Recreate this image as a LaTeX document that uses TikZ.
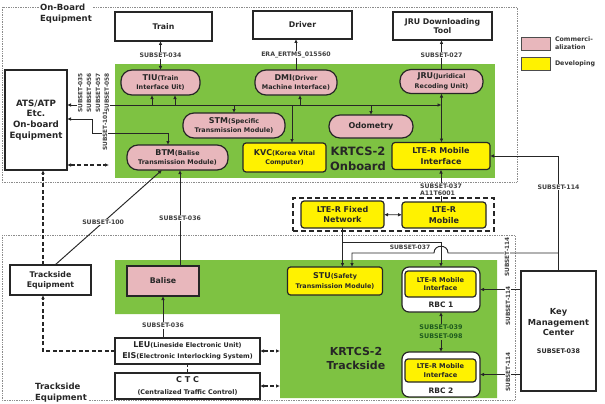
\documentclass[tikz,border=0pt]{standalone}
\usepackage{fontspec}
\setmainfont{DejaVu Sans}
\usepackage{tikz}
\usetikzlibrary{arrows.meta,positioning,fit,calc}
\definecolor{cGrn}{HTML}{7EC242}
\definecolor{cPnk}{HTML}{E8B7BC}
\definecolor{cYel}{HTML}{FFF200}
\definecolor{cLin}{HTML}{262626}
\definecolor{cDkG}{HTML}{1E5A1E}
\definecolor{cFrm}{HTML}{8C8C8C}
\newcommand{\nm}[1]{{\fontsize{8}{9}\selectfont #1}}
\tikzset{
  frm/.style ={draw=cFrm,densely dotted,line width=0.7pt},
  grn/.style ={fill=cGrn,draw=none,inner sep=0pt},
  ttl/.style ={font=\fontsize{8.5}{11}\selectfont\bfseries,fill=white,align=left,
               inner sep=1.5pt,text=black!85},
  ext/.style ={draw=cLin,line width=1.2pt,fill=white,align=center,inner sep=1pt,
               font=\fontsize{7.8}{9.8}\selectfont\bfseries,text=black!85},
  com/.style ={ext,fill=cPnk,rounded corners=11pt,font=\fontsize{6.4}{9.5}\selectfont\bfseries},
  dev/.style ={ext,fill=cYel,rounded corners=3pt,font=\fontsize{6.4}{9.5}\selectfont\bfseries},
  devt/.style={dev,font=\fontsize{8}{10.5}\selectfont\bfseries},
  rbc/.style ={draw=cLin,line width=1.2pt,fill=white,rounded corners=7pt,inner sep=0pt},
  big/.style ={font=\fontsize{11.5}{15}\selectfont\bfseries,align=center,text=black!85},
  lbl/.style ={font=\fontsize{6.2}{6.8}\selectfont\bfseries,text=black!75,fill=white,inner sep=0.8pt},
  vlbl/.style={lbl,rotate=90,font=\fontsize{5.8}{8.8}\selectfont\bfseries,align=center},
  sig/.style ={->,draw=cLin,line width=0.95pt},
  sigb/.style={<->,draw=cLin,line width=0.95pt},
  dsig/.style={sig,line width=1.1pt,dash pattern=on 4pt off 2.5pt},
  dsigb/.style={sigb,line width=1.1pt,dash pattern=on 4pt off 2.5pt},
  dln/.style ={draw=cLin,line width=1pt,dash pattern=on 3pt off 2pt},
  grp/.style ={draw=cLin,line width=1.4pt,dash pattern=on 5pt off 3pt,inner xsep=8pt,inner ysep=3pt},
  leg/.style ={draw=black!70,line width=0.8pt,minimum width=29pt,minimum height=13pt,inner sep=0pt},
  legt/.style={font=\fontsize{6.3}{7.8}\selectfont\bfseries,align=left,inner sep=1pt,text=black!80},
}

\begin{document}
\begin{tikzpicture}[x=1pt,y=-1pt,>={Latex[length=4pt,width=3.6pt]},every node/.style={outer sep=0pt}]
\useasboundingbox (0,0) rectangle (605,404);

% ---------------- frames and green areas ---------------------------------
\draw[frm] (2,7) rectangle (517,182);
\draw[frm] (2,235) rectangle (515,400);
\node[grn,minimum width=380pt,minimum height=114pt] (gOnb) at (305,121) {};
\fill[cGrn] (115,260) -- (497,260) -- (497,398) -- (280,398) -- (280,314) -- (115,314) -- cycle;
\coordinate (gTrk) at (280,314);
\node[ttl] (tOnb) at (66,14) {On-Board\\Equipment};
\node[ttl] (tTrk) at (61,392.5) {Trackside\\Equipment};

% ---------------- on-board ------------------------------------------------
\node[ext,minimum width=97pt,minimum height=29pt] (train) at (163.5,26.5) {Train};
\node[ext,minimum width=99pt,minimum height=28pt] (driver) at (302.5,25) {Driver};
\node[ext,minimum width=99pt,minimum height=28pt] (jrutool) at (442.5,26) {JRU Downloading\\Tool};
\node[ext,minimum width=62pt,minimum height=100pt,font=\fontsize{8.7}{10.7}\selectfont\bfseries]
  (atsatp) at (36,120) {ATS/ATP\\Etc.\\On-board\\Equipment};

\node[com,minimum width=79pt,minimum height=25pt] (tiu) at (160.5,82.5) {\nm{TIU}(Train\\Interface Uit)};
\node[com,minimum width=82pt,minimum height=25pt] (dmi) at (296,82.5) {\nm{DMI}(Driver\\Machine Interface)};
\node[com,minimum width=83pt,minimum height=24pt] (jru) at (441.5,81.5) {\nm{JRU}(Juridical\\Recoding Unit)};
\node[com,minimum width=102pt,minimum height=25pt] (stm) at (234,125.5) {\nm{STM}(Specific\\Transmission Module)};
\node[com,minimum width=84pt,minimum height=23pt,font=\fontsize{8}{9}\selectfont\bfseries] (odo) at (371,126.5) {Odometry};
\node[com,minimum width=101pt,minimum height=25pt] (btm) at (177.5,157.5) {\nm{BTM}(Balise\\Transmission Module)};
\node[dev,minimum width=83pt,minimum height=29pt] (kvc) at (284.5,157.5) {\nm{KVC}(Korea Vital\\Computer)};
\node[devt,minimum width=98pt,minimum height=27pt] (ltemi) at (441,156) {LTE-R Mobile\\Interface};
\node[big] (kOnb) at (358,159) {KRTCS-2\\Onboard};

% ---------------- LTE-R network -------------------------------------------
\node[devt,minimum width=83pt,minimum height=27pt] (ltefix) at (342.5,214.5) {LTE-R Fixed\\Network};
\node[devt,minimum width=84pt,minimum height=26pt] (ltemob) at (444,215) {LTE-R\\Mobile};
\node[grp,fit=(ltefix)(ltemob)] (ltenet) {};

% ---------------- trackside -----------------------------------------------
\node[ext,minimum width=81pt,minimum height=30pt] (trkeq) at (50.5,280) {Trackside\\Equipment};
\node[ext,fill=cPnk,minimum width=72pt,minimum height=30pt] (balise) at (163,281) {Balise};
\node[ext,minimum width=145pt,minimum height=26pt,font=\fontsize{6.4}{11}\selectfont\bfseries]
  (leu) at (187.5,351) {\nm{LEU}(Lineside Electronic Unit)\\\nm{EIS}(Electronic Interlocking System)};
\node[ext,minimum width=145pt,minimum height=26pt,font=\fontsize{6.4}{12}\selectfont\bfseries]
  (ctc) at (187.5,386) {\nm{C T C}\\(Centralized Traffic Control)};
\node[dev,minimum width=95pt,minimum height=28pt] (stu) at (335,281) {\nm{STU}(Safety\\Transmission Module)};
\foreach \r/\y/\iy/\ih/\ny in {1/289.5/284/26/305, 2/374.5/370.5/23/391}{
  \node[rbc,minimum width=78pt,minimum height=45pt] (rbc\r) at (441,\y) {};
  \node[dev,minimum width=71pt,minimum height=\ih pt,font=\fontsize{6.6}{8.5}\selectfont\bfseries]
    (rbc\r if) at (440.5,\iy) {LTE-R Mobile\\Interface};
  \node[font=\fontsize{7.5}{9}\selectfont\bfseries,text=black!85] (rbc\r nm) at (441,\ny) {RBC \r};
}
\node[ext,minimum width=75pt,minimum height=120pt,font=\fontsize{8.3}{10.5}\selectfont\bfseries]
  (kmc) at (558.5,331) {Key\\Management\\Center\\[7pt]{\fontsize{6.4}{7}\selectfont SUBSET-038}};
\node[big,font=\fontsize{11}{14}\selectfont\bfseries] (kTrk) at (356,358) {KRTCS-2\\Trackside};

% ---------------- legend --------------------------------------------------
\node[leg,fill=cPnk] (legc) at (535.5,43.5) {};
\node[legt,right=4pt of legc] (legct) {Commerci-\\alization};
\node[leg,fill=cYel] (legd) at (535.5,63.5) {};
\node[legt,right=4pt of legd] (legdt) {Developing};

% ---------------- on-board connectors -------------------------------------
\draw[sigb] (tiu.north) -- (tiu.north |- train.south) node[lbl,midway] (l034) {SUBSET-034};
\draw[sig] (dmi.north) -- (dmi.north |- driver.south) node[lbl,midway] (l560) {ERA\_ERTMS\_015560};
\draw[sig] (jru.north) -- (jru.north |- jrutool.south) node[lbl,midway] (l027) {SUBSET-027};

\coordinate (busY) at (0,105);
\coordinate (busE) at (jru.south |- busY);
\draw[sigb] (atsatp.east |- busY) -- (busE);
\node[vlbl] (l035) at (93.5,93) {SUBSET-035\\SUBSET-056\\SUBSET-057\\SUBSET-058};
\coordinate (tA) at ([xshift=-8.5pt]tiu.south);
\coordinate (tB) at ([xshift=14.5pt]tiu.south);
\coordinate (dA) at ([xshift=4pt]dmi.south);
\coordinate (kA) at ([xshift=7.5pt]kvc.north);
\foreach \p in {tA,tB,dA,kA,stm.north,odo.north}
  \draw[sig] (\p |- busY) -- (\p);
\draw[sigb] (jru.south) -- (jru.south |- ltemi.north);

\coordinate (y119) at (0,119);
\coordinate (k101) at (92,133);
\coordinate (b101) at ([xshift=-9.5pt]btm.north);
\draw[sigb] (atsatp.east |- y119) -| (k101) -| (b101);
\node[vlbl] (l101) at (105,131) {SUBSET-101};
\coordinate (y165) at (0,165);
\draw[dsigb,shorten >=6pt] (atsatp.east |- y165) -- (gOnb.west |- y165);

% ---------------- trackside connectors ------------------------------------
\coordinate (x43) at (43,0);
\draw[dsig] (trkeq.north -| x43) -- (atsatp.south -| x43);
\draw[dsig] (leu.west) -| (trkeq.south -| x43);
\coordinate (s100a) at ([xshift=4.5pt]trkeq.north);
\coordinate (s100b) at ([xshift=-15.5pt]btm.south);
\draw[sig] (s100a) -- (s100b) node[lbl,pos=0.45] (l100) {SUBSET-100};
\coordinate (bq) at ([xshift=17pt]balise.north);
\draw[sig] (bq) -- (bq |- btm.south) node[lbl,midway] (l036a) {SUBSET-036};
\draw[sig] (balise.south |- leu.north) -- (balise.south) node[lbl,pos=0.3] (l036b) {SUBSET-036};
\draw[dln] (leu.south) -- (ctc.north);
\draw[dsigb] (leu.east) -- (leu.east -| gTrk);
\draw[dsigb] (ctc.east) -- (ctc.east -| gTrk);

% ---------------- LTE-R / RBC / KMC connectors ----------------------------
\draw[sigb] (ltefix) -- (ltemob);
\draw[sig] (ltemi.south |- ltemob.north) -- (ltemi.south)
  node[lbl,pos=0.375,align=left] (l037a) {SUBSET-037\\A11T6001};
\coordinate (y242) at (0,242);
\coordinate (y253) at (0,253);
\draw[sig] (ltefix.south) -- (ltefix.south |- stu.north);
\draw[sig] (ltefix.south |- y242) -| (rbc1.north);
\node[lbl,fill=none,font=\fontsize{6}{6.5}\selectfont\bfseries] (l037b) at (410,247.5) {SUBSET-037};
\coordinate (brC) at (rbc1.north |- y253);
\coordinate (sq) at ([xshift=17pt]stu.north);
\draw[sig] (kmc.north |- y253) -- ([xshift=7pt]brC)
  .. controls ([xshift=7pt,yshift=9pt]brC) and ([xshift=-7pt,yshift=9pt]brC) .. ([xshift=-7pt]brC)
  -- (sq |- y253) -- (sq);
\node[vlbl] (l114a) at (507,257) {SUBSET-114};
\draw[sig] (kmc.north) |- (ltemi.east) node[lbl,pos=0.365] (l114d) {SUBSET-114};
\draw[sig] (kmc.west |- rbc1.east) -- (rbc1.east);
\node[vlbl] (l114b) at (508,306) {SUBSET-114};
\draw[sig] (kmc.west |- rbc2.east) -- (rbc2.east);
\node[vlbl] (l114c) at (508,372) {SUBSET-114};
\draw[sigb] (rbc1.south) -- (rbc2.north)
  node[lbl,midway,fill=cGrn,text=cDkG,align=center,font=\fontsize{6.4}{9}\selectfont\bfseries] (l039) {SUBSET-039\\SUBSET-098};
\end{tikzpicture}
\end{document}
